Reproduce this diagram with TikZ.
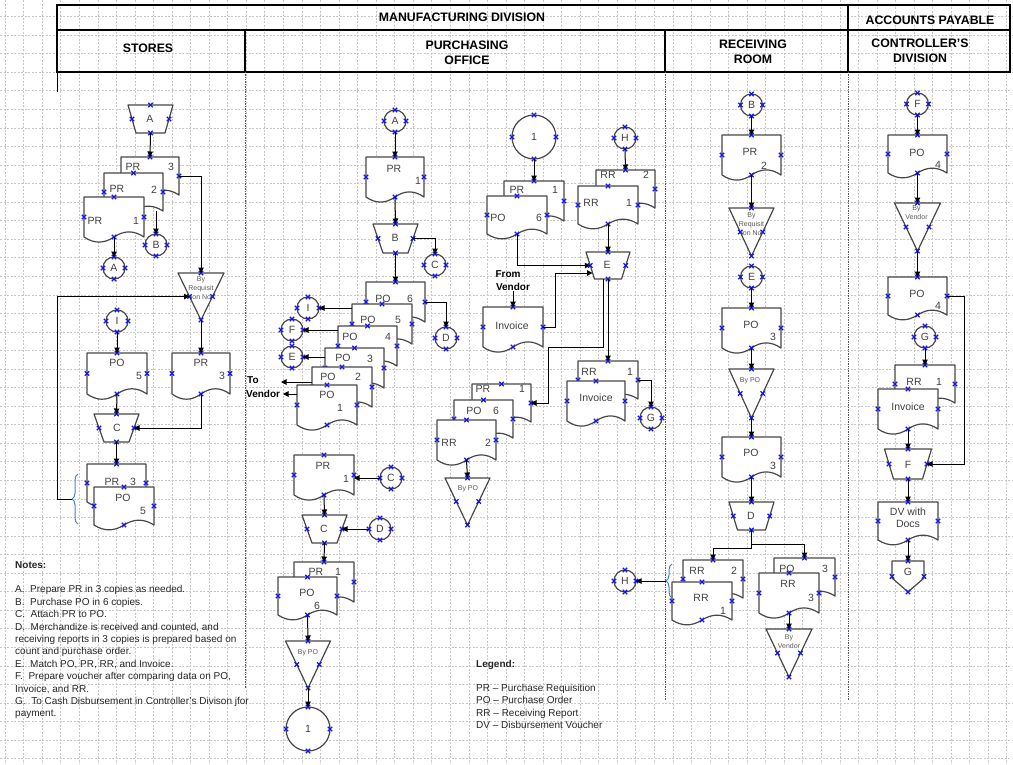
\documentclass[tikz,border=0pt]{standalone}
\usepackage{fontspec}
\setmainfont{Liberation Sans}
\usetikzlibrary{arrows.meta,calc,decorations.pathreplacing}
\definecolor{brcol}{RGB}{79,129,189}
\definecolor{mk}{RGB}{20,20,235}

\newcommand\xm[1]{\draw[xmk] (#1) +(-2.2,-2.2) -- +(2.2,2.2) +(-2.2,2.2) -- +(2.2,-2.2);}
% document: name, left x, top y, width, side length
\newcommand\docu[5]{%
 \pgfmathsetmacro\docL{#2}\pgfmathsetmacro\docR{#2+#4}%
 \pgfmathsetmacro\docT{#3}\pgfmathsetmacro\docB{#3+#5}%
 \pgfmathsetmacro\docM{#2+#4/2}\pgfmathsetmacro\docH{#5*0.17}%
 \pgfmathsetmacro\docQ{#4*0.17}\pgfmathsetmacro\docW{#4*0.33}%
 \path[shp] (\docL,\docT) -- (\docR,\docT) -- (\docR,\docB)
   .. controls ({\docR-\docQ},{\docB-\docH}) and ({\docR-\docW},{\docB-\docH}) .. (\docM,\docB)
   .. controls ({\docL+\docW},{\docB+\docH}) and ({\docL+\docQ},{\docB+\docH}) .. (\docL,\docB) -- cycle;
 \node[box, minimum width=#4, minimum height=#5] (#1) at (\docM,{\docT+#5/2}) {};
 \xm{#1.north}\xm{#1.west}\xm{#1.east}\xm{#1.south}}
% trapezoid: name, cx, top, top width, bottom width, height
\newcommand\trap[6]{%
 \path[shp] ({#2-#4/2},#3) -- ({#2+#4/2},#3) -- ({#2+#5/2},{#3+#6}) -- ({#2-#5/2},{#3+#6}) -- cycle;
 \node[box, minimum width={(#4+#5)/2}, minimum height=#6] (#1) at (#2,{#3+#6/2}) {};
 \xm{#1.north}\xm{#1.west}\xm{#1.east}\xm{#1.south}}
% inverted triangle: name, cx, top, width, height
\newcommand\tri[5]{%
 \path[shp] ({#2-#4/2},#3) -- ({#2+#4/2},#3) -- (#2,{#3+#5}) -- cycle;
 \node[box, minimum width={#4/2}, minimum height=#5] (#1) at (#2,{#3+#5/2}) {};
 \xm{#1.north}\xm{#1.west}\xm{#1.east}\xm{#1.south}}
% off-page: name, cx, top, width, side height, total height
\newcommand\offp[6]{%
 \path[shp] ({#2-#4/2},#3) -- ({#2+#4/2},#3) -- ({#2+#4/2},{#3+#5}) -- (#2,{#3+#6}) -- ({#2-#4/2},{#3+#5}) -- cycle;
 \node[box, minimum width=#4, minimum height=#6] (#1) at (#2,{#3+#6/2}) {};
 \xm{#1.north}\xm{#1.west}\xm{#1.east}\xm{#1.south}}
% connector circle: name, x, y, diameter, label
\newcommand\cnode[5]{%
 \node[conn, minimum size=#4] (#1) at (#2,#3) {#5};
 \xm{#1.north}\xm{#1.south}\xm{#1.east}\xm{#1.west}}
\newcommand\lbl[4]{\node[lab] (#1) at (#2,#3) {#4};}

\begin{document}
\begin{tikzpicture}[x=1pt,y=-1pt,
  gridl/.style={draw=black!22, line width=0.5pt, dash pattern=on 2pt off 1.5pt},
  sep/.style={draw=black!65, line width=0.8pt, dash pattern=on 0.8pt off 0.9pt},
  hline/.style={draw=black, line width=1.3pt},
  hdr/.style={font=\fontsize{12.3}{15}\selectfont\bfseries, align=center, inner sep=0pt},
  shp/.style={draw=black!72, line width=1.2pt, fill=white, line join=round},
  box/.style={draw=none, inner sep=0pt, outer sep=0pt},
  conn/.style={circle, draw=black!72, line width=1.2pt, fill=white, inner sep=0pt, outer sep=0pt,
     font=\fontsize{10.5}{12}\selectfont, text=black!75},
  xmk/.style={draw=mk, line width=1.2pt},
  arr/.style={draw=black, line width=1pt, -{Triangle[length=5.5pt,width=5.5pt]}},
  lab/.style={font=\fontsize{10.5}{12}\selectfont, text=black!75, inner sep=0pt, align=center},
  small/.style={font=\fontsize{7}{9}\selectfont, text=black!65, inner sep=0pt, align=center},
  bl/.style={font=\fontsize{10}{12}\selectfont\bfseries, inner sep=0pt},
  notes/.style={font=\fontsize{10}{12.4}\selectfont, text=black!85, inner sep=0pt, align=left},
  brc/.style={draw=brcol, line width=1pt, decorate, decoration={brace, amplitude=6pt}}]

\fill[white] (0,0) rectangle (1013,764);
\useasboundingbox (0,0) rectangle (1013,764);
% grid
\foreach \i in {0,...,54} \draw[gridl] ({5+18.55*\i},0) -- ({5+18.55*\i},764);
\foreach \i in {0,...,41} \draw[gridl] (0,{-2.05+18.55*\i}) -- (1013,{-2.05+18.55*\i});

% header
\draw[hline] (57,5) rectangle (1010,72);
\draw[hline] (57,30) -- (1010,30);
\draw[hline] (848,5) -- (848,72);
\draw[hline] (245,30) -- (245,72);
\draw[hline] (665,30) -- (665,72);
\draw[line width=1pt] (57,72) -- (57,92);
\draw[sep] (245,72) -- (245,688);
\draw[sep] (665,72) -- (665,700);
\draw[sep] (848,72) -- (848,700);
\node[hdr] (hMan) at (462,17) {MANUFACTURING DIVISION};
\node[hdr] (hAcc) at (930,20) {ACCOUNTS PAYABLE};
\node[hdr] (hSto) at (148,48) {STORES};
\node[hdr] (hPur) at (467,53) {PURCHASING\\OFFICE};
\node[hdr] (hRec) at (753,52) {RECEIVING\\ROOM};
\node[hdr] (hCon) at (920,51) {CONTROLLER’S\\DIVISION};

% ================= STORES =================
\trap{sA}{150.5}{105}{45}{29}{28}
\docu{sPR3}{121}{157}{58}{38}
\docu{sPR2}{104}{173}{59}{38}
\docu{sPR1}{84}{197}{60}{40}
\cnode{sB}{156}{245}{22}{B}
\cnode{sA2}{114}{268}{22}{A}
\tri{sTri}{201}{273}{46}{47}
\cnode{sI}{117}{321}{22}{I}
\docu{sPO}{87}{353}{60}{41}
\docu{sPRr}{172}{353}{58}{41}
\trap{sC}{116.5}{414}{45}{25}{28}
\docu{sStPR}{87}{464}{59}{38}
\docu{sStPO}{94}{487}{60}{38}
\draw[brc] (78,524) -- (78,474);
\coordinate (sBrTip) at (72,499);
\coordinate (sCorner) at (57,499);

% ================= PURCHASING (left) =================
\cnode{pA}{395}{121}{22}{A}
\docu{pPR}{366}{157}{58}{40}
\trap{pB}{395.5}{224}{45}{25}{29}
\cnode{pC}{435}{265}{22}{C}
\docu{pPO6}{366}{282}{59}{40}
\docu{pPO5}{352}{304}{60}{40}
\docu{pPO4}{338}{326}{59}{40}
\docu{pPO3}{325}{348}{59}{40}
\docu{pPO2}{312}{367}{60}{40}
\docu{pPO1}{297}{385}{60}{40}
\cnode{pD}{446}{338}{22}{D}
\cnode{pI}{308}{308}{22}{I}
\cnode{pF}{292}{330}{22}{F}
\cnode{pE}{292}{357}{22}{E}
\coordinate (pToEnd) at (281,382);
\coordinate (pVenEnd) at (283,394);
\docu{pPRb}{294}{455}{60}{40}
\cnode{pC2}{391}{478}{22}{C}
\trap{pC3}{324.5}{515}{45}{25}{28}
\cnode{pD2}{380}{529}{22}{D}
\docu{pPR1b}{294}{562}{60}{40}
\docu{pPO6b}{278}{577}{59}{38}
\tri{pT1}{308}{641}{45}{47}
\cnode{p1}{308}{729}{44}{1}

% ================= PURCHASING (right) =================
\cnode{q1}{534}{137}{44}{1}
\docu{qPR}{504}{181}{60}{40}
\docu{qPO}{487}{196}{60}{38}
\cnode{qH}{625}{138}{22}{H}
\docu{qRR2}{596}{170}{59}{38}
\docu{qRR1}{578}{186}{60}{38}
\trap{qE}{608}{252}{44}{27}{27}
\docu{qInv}{483}{307}{60}{40}
\coordinate (qEin) at (592.5,273);
\coordinate (qEout) at (603,279);
\coordinate (qBend) at (548,347);
\docu{qRRb}{578}{361}{60}{38}
\docu{qInvb}{567}{381}{58}{40}
\cnode{qG}{651}{418}{22}{G}
\docu{qPRs}{472}{384}{59}{38}
\docu{qPOs}{454}{400}{59}{38}
\docu{qRRs}{437}{420}{59}{40}
\tri{qT}{467.5}{478}{45}{47}

% ================= RECEIVING =================
\cnode{rB}{751.5}{105}{22}{B}
\docu{rPR}{722}{135}{59}{40}
\tri{rT1}{751.5}{208}{45}{48}
\cnode{rE}{751.5}{277}{22}{E}
\docu{rPO}{722}{308}{59}{40}
\tri{rT2}{751.5}{369}{45}{49}
\docu{rPO2}{722}{437}{59}{40}
\trap{rD}{751.5}{502}{45}{28}{28}
\docu{rRR2}{683}{560}{60}{38}
\docu{rRR1}{672}{582}{60}{38}
\draw[brc] (672,598) -- (672,564);
\coordinate (rBrTip) at (666,581);
\cnode{rH}{625}{581}{22}{H}
\docu{rPOb}{774}{558}{61}{38}
\docu{rRRf}{759}{573}{60}{40}
\tri{rT3}{789}{629}{46}{48}

% ================= CONTROLLER =================
\cnode{cF}{917.5}{104}{22}{F}
\docu{cPO}{888}{135}{59}{38}
\tri{cT}{917.5}{203}{46}{48}
\docu{cPO2}{888}{277}{59}{38}
\cnode{cG}{925}{337}{22}{G}
\docu{cRR}{895}{365}{60}{38}
\docu{cInv}{878}{389}{60}{40}
\trap{cFt}{908}{449}{47}{29}{30}
\docu{cDV}{878}{502}{60}{38}
\offp{cGo}{908}{561}{32}{17}{31}

% ================= CONNECTORS =================
\draw[arr] (sA.south) -- (sPR3.north);
\draw[arr] (sPR2.south -| sB.north) -- (sB.north);
\draw[arr] (sPR1.south) -- (sA2.north);
\draw[arr] (sPR3.east) -| (sTri.north);
\draw[arr] (sBrTip) -- (sCorner) |- (sTri.west);
\draw[arr] (sTri.south) -- (sPRr.north);
\draw[arr] (sI.south) -- (sPO.north);
\draw[arr] (sPO.south) -- (sC.north);
\draw[arr] (sPRr.south) |- (sC.east);
\draw[arr] (sC.south) -- (sStPR.north);

\draw[arr] (pA.south) -- (pPR.north);
\draw[arr] (pPR.south) -- (pB.north);
\draw[arr] (pB.east) -| (pC.north);
\draw[arr] (pB.south) -- (pPO6.north);
\draw[arr] (pPO6.east) -| (pD.north);
\draw[arr] (pPO5.west |- pI.east) -- (pI.east);
\draw[arr] (pPO4.west |- pF.east) -- (pF.east);
\draw[arr] (pPO3.west |- pE.east) -- (pE.east);
\draw[arr] (pPO2.west |- pToEnd) -- (pToEnd);
\draw[arr] (pPO1.west |- pVenEnd) -- (pVenEnd);
\draw[arr] (pC2.west) -- (pC2.west -| pPRb.east);
\draw[arr] (pPRb.south) -- (pC3.north);
\draw[arr] (pD2.west) -- (pC3.east);
\draw[arr] (pC3.south) -- (pPR1b.north);
\draw[arr] (pPO6b.south) -- (pT1.north);
\draw[arr] (pT1.south) -- (p1.north);

\draw[arr] (q1.south) -- (qPR.north);
\draw[arr] (qH.south) -- (qRR2.north);
\draw[arr] (qRR1.south) -- (qE.north);
\draw[arr] (qPO.south) |- (qE.west);
\draw[arr] (qInv.east) -- ++(12,0) |- (qEin);
\draw[arr] (qEout) |- (qBend) |- (qPRs.east);
\draw[arr] (qE.south) -- (qRRb.north);
\draw[arr] (qRRb.east) -| (qG.north);
\draw[arr] (qRRs.south) -- (qT.north);

\draw[arr] (rB.south) -- (rPR.north);
\draw[arr] (rPR.south) -- (rT1.north);
\draw[arr] (rE.south) -- (rPO.north);
\draw[arr] (rPO.south) -- (rT2.north);
\draw[arr] (rT2.south) -- (rPO2.north);
\draw[arr] (rPO2.south) -- (rD.north);
\draw[arr] (rD.south) -- ++(0,14) -| (rPOb.north);
\draw[arr] (rD.south) -- ++(0,18) -| (rRR2.north);
\draw[arr] (rBrTip) -- (rH.east);
\draw[arr] (rRRf.south) -- (rT3.north);

\draw[arr] (cF.south) -- (cPO.north);
\draw[arr] (cPO.south) -- (cT.north);
\draw[arr] (cT.south) -- (cPO2.north);
\draw[arr] (cG.south) -- (cRR.north);
\draw[arr] (cInv.south) -- (cFt.north);
\draw[arr] (cFt.south) -- (cDV.north);
\draw[arr] (cDV.south) -- (cGo.north);
\draw[arr] (cPO2.east) -- ++(17,0) |- (cFt.east);

% ================= LABELS =================
\lbl{lsA}{150}{119}{A}
\lbl{lsPR3a}{133}{167}{PR}\lbl{lsPR3b}{171}{167}{3}
\lbl{lsPR2a}{117}{189}{PR}\lbl{lsPR2b}{154}{190}{2}
\lbl{lsPR1a}{95}{221}{PR}\lbl{lsPR1b}{136}{221}{1}
\node[small] (lsTri) at (201,288) {By\\Requisit\\ion No};
\lbl{lsPRra}{201}{363}{PR}\lbl{lsPRrb}{222}{376}{3}
\lbl{lsPOa}{117}{363}{PO}\lbl{lsPOb}{139}{376}{5}
\lbl{lsC}{117}{428}{C}
\lbl{lsSa}{112}{482}{PR}\lbl{lsSb}{133}{482}{3}
\lbl{lsSc}{123}{498}{PO}\lbl{lsSd}{143}{511}{5}

\lbl{lpPRa}{394}{169}{PR}\lbl{lpPRb}{418}{181}{1}
\lbl{lpB}{395}{238}{B}
\lbl{lpPO6a}{383}{299}{PO}\lbl{lpPO6b}{410}{299}{6}
\lbl{lpPO5a}{368}{320}{PO}\lbl{lpPO5b}{398}{320}{5}
\lbl{lpPO4a}{350}{337}{PO}\lbl{lpPO4b}{388}{337}{4}
\lbl{lpPO3a}{343}{358}{PO}\lbl{lpPO3b}{370}{359}{3}
\lbl{lpPO2a}{328}{377}{PO}\lbl{lpPO2b}{358}{377}{2}
\lbl{lpPO1a}{327}{395}{PO}\lbl{lpPO1b}{340}{408}{1}
\node[bl, anchor=west] (pTo) at (247,380) {To};
\node[bl, anchor=west] (pVen) at (246,394) {Vendor};
\lbl{lpPRba}{323}{466}{PR}\lbl{lpPRbb}{346}{479}{1}
\lbl{lpC3}{324}{529}{C}
\lbl{lpPR1a}{316}{572}{PR}\lbl{lpPR1b}{338}{572}{1}
\lbl{lpPO6ba}{307}{593}{PO}\lbl{lpPO6bb}{317}{606}{6}
\node[small] (lpT1) at (308,653) {By PO};

\lbl{lqPRa}{517}{190}{PR}\lbl{lqPRb}{555}{190}{1}
\lbl{lqPOa}{498}{218}{PO}\lbl{lqPOb}{539}{218}{6}
\lbl{lqRR2a}{608}{175}{RR}\lbl{lqRR2b}{646}{175}{2}
\lbl{lqRR1a}{591}{203}{RR}\lbl{lqRR1b}{629}{203}{1}
\lbl{lqE}{607}{265}{E}
\node[bl] (qFrom) at (508,274) {From};
\node[bl] (qVen) at (513,287) {Vendor};
\draw[arr] (qVen.south) -- (qInv.north);
\lbl{lqInv}{512}{326}{Invoice}
\lbl{lqRRba}{589}{372}{RR}\lbl{lqRRbb}{630}{372}{1}
\lbl{lqInvb}{596}{398}{Invoice}
\lbl{lqPRsa}{483}{389}{PR}\lbl{lqPRsb}{522}{389}{1}
\lbl{lqPOsa}{474}{411}{PO}\lbl{lqPOsb}{496}{411}{6}
\lbl{lqRRsa}{449}{443}{RR}\lbl{lqRRsb}{488}{443}{2}
\node[small] (lqT) at (468,489) {By PO};

\lbl{lrPRa}{750}{152}{PR}\lbl{lrPRb}{764}{166}{2}
\node[small] (lrT1) at (751.5,224) {By\\Requisit\\ion No};
\lbl{lrPOa}{751}{325}{PO}\lbl{lrPOb}{773}{337}{3}
\node[small] (lrT2) at (750,381) {By PO};
\lbl{lrPO2a}{751}{453}{PO}\lbl{lrPO2b}{773}{466}{3}
\lbl{lrD}{751}{516}{D}
\lbl{lrRR2a}{697}{571}{RR}\lbl{lrRR2b}{734}{571}{2}
\lbl{lrRR1a}{701}{598}{RR}\lbl{lrRR1b}{723}{611}{1}
\lbl{lrPOba}{787}{569}{PO}\lbl{lrPObb}{825}{569}{3}
\lbl{lrRRfa}{788}{584}{RR}\lbl{lrRRfb}{811}{598}{3}
\node[small] (lrT3) at (789,641.5) {By\\Vendor};

\lbl{lcPOa}{917}{153}{PO}\lbl{lcPOb}{938}{165}{4}
\node[small] (lcT) at (916.5,213) {By\\Vendor};
\lbl{lcPO2a}{917}{294}{PO}\lbl{lcPO2b}{938}{306}{4}
\lbl{lcRRa}{914}{382}{RR}\lbl{lcRRb}{939}{382}{1}
\lbl{lcInv}{908}{407}{Invoice}
\lbl{lcF}{908}{465}{F}
\lbl{lcDV}{908}{518}{DV with\\Docs}
\lbl{lcG}{908}{572}{G}

% ================= NOTES & LEGEND =================
\node[notes, anchor=north west] (notes) at (15,561) {\textbf{Notes:}\\[12.4pt]
A.\ \ Prepare PR in 3 copies as needed.\\
B.\ \ Purchase PO in 6 copies.\\
C.\ \ Attach PR to PO.\\
D.\ \ Merchandize is received and counted, and\\
receiving reports in 3 copies is prepared based on\\
count and purchase order.\\
E.\ \ Match PO, PR, RR, and Invoice.\\
F.\ \ Prepare voucher after comparing data on PO,\\
Invoice, and RR.\\
G.\ \ To Cash Disbursement in Controller’s Divison jfor\\
payment.};
\node[notes, anchor=north west] (legend) at (476,660) {\textbf{Legend:}\\[11.6pt]
PR – Purchase Requisition\\
PO – Purchase Order\\
RR – Receiving Report\\
DV – Disbursement Voucher};
\end{tikzpicture}
\end{document}
